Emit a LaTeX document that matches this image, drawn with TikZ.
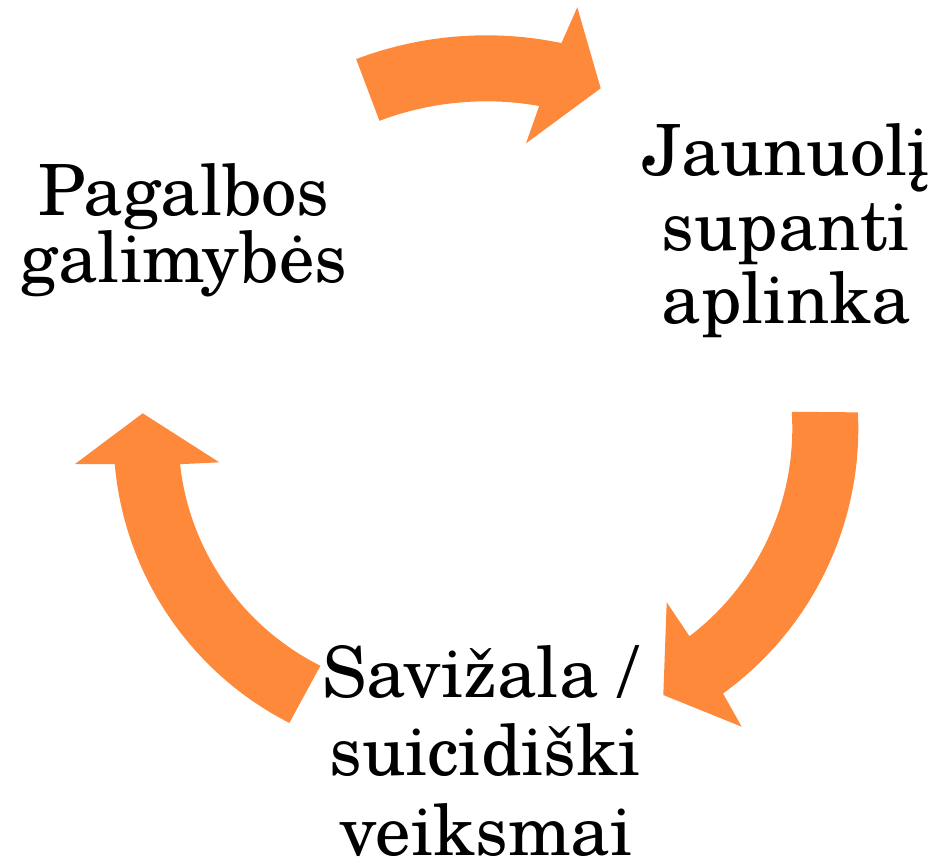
\documentclass[tikz,border=0pt]{standalone}
\usepackage{fontspec}
\setmainfont{texgyreschola-regular.otf}
\definecolor{arrowc}{RGB}{255,137,58}
\begin{document}
\begin{tikzpicture}[x=1pt,y=-1pt,
  txt/.style={anchor=base, inner sep=0pt, font=\fontsize{70.6}{80}\selectfont},
  arr/.style={fill=arrowc, draw=none}]
\useasboundingbox (0,0) rectangle (939,860);
% centres of the arcs
\coordinate (ct) at (486.2,403.3);
\coordinate (cr) at (531.3,428.6);
\coordinate (cl) at (435.5,436);
% top arrow
\fill[arr] ([shift={(-110.7:368)}]ct) arc[start angle=-110.7, end angle=-78.2, radius=368]
  -- (577.3,7.3) -- (600.7,88.3) -- (526,143.3)
  -- ([shift={(-79.9:302)}]ct) arc[start angle=-79.9, end angle=-110.7, radius=302] -- cycle;
% right arrow
\fill[arr] ([shift={(-2.85:327)}]cr) arc[start angle=-2.85, end angle=54.1, radius=327]
  -- (741.7,726.7) -- (663.3,695) -- (666.7,602.3)
  -- ([shift={(52.7:261)}]cr) arc[start angle=52.7, end angle=-3.7, radius=261] -- cycle;
% left arrow
\fill[arr] ([shift={(117:322)}]cl) arc[start angle=117, end angle=175, radius=322]
  -- (75,464) -- (142.7,413.3) -- (219.3,462.3)
  -- ([shift={(173.7:257)}]cl) arc[start angle=173.7, end angle=116.6, radius=257] -- cycle;
% texts
\node[txt] (p1) at (184,215) {Pagalbos};
\node[txt] (p2) at (184,282) {galimybės};
\node[txt] (j1) at (786,175) {Jaunuolį};
\node[txt] (j2) at (786,250) {supanti};
\node[txt] (j3) at (786,323) {aplinka};
\node[txt] (s1) at (480,697) {Savižala /};
\node[txt] (s2) at (485,775) {suicidiški};
\node[txt] (s3) at (486,855) {veiksmai};
\end{tikzpicture}
\end{document}
